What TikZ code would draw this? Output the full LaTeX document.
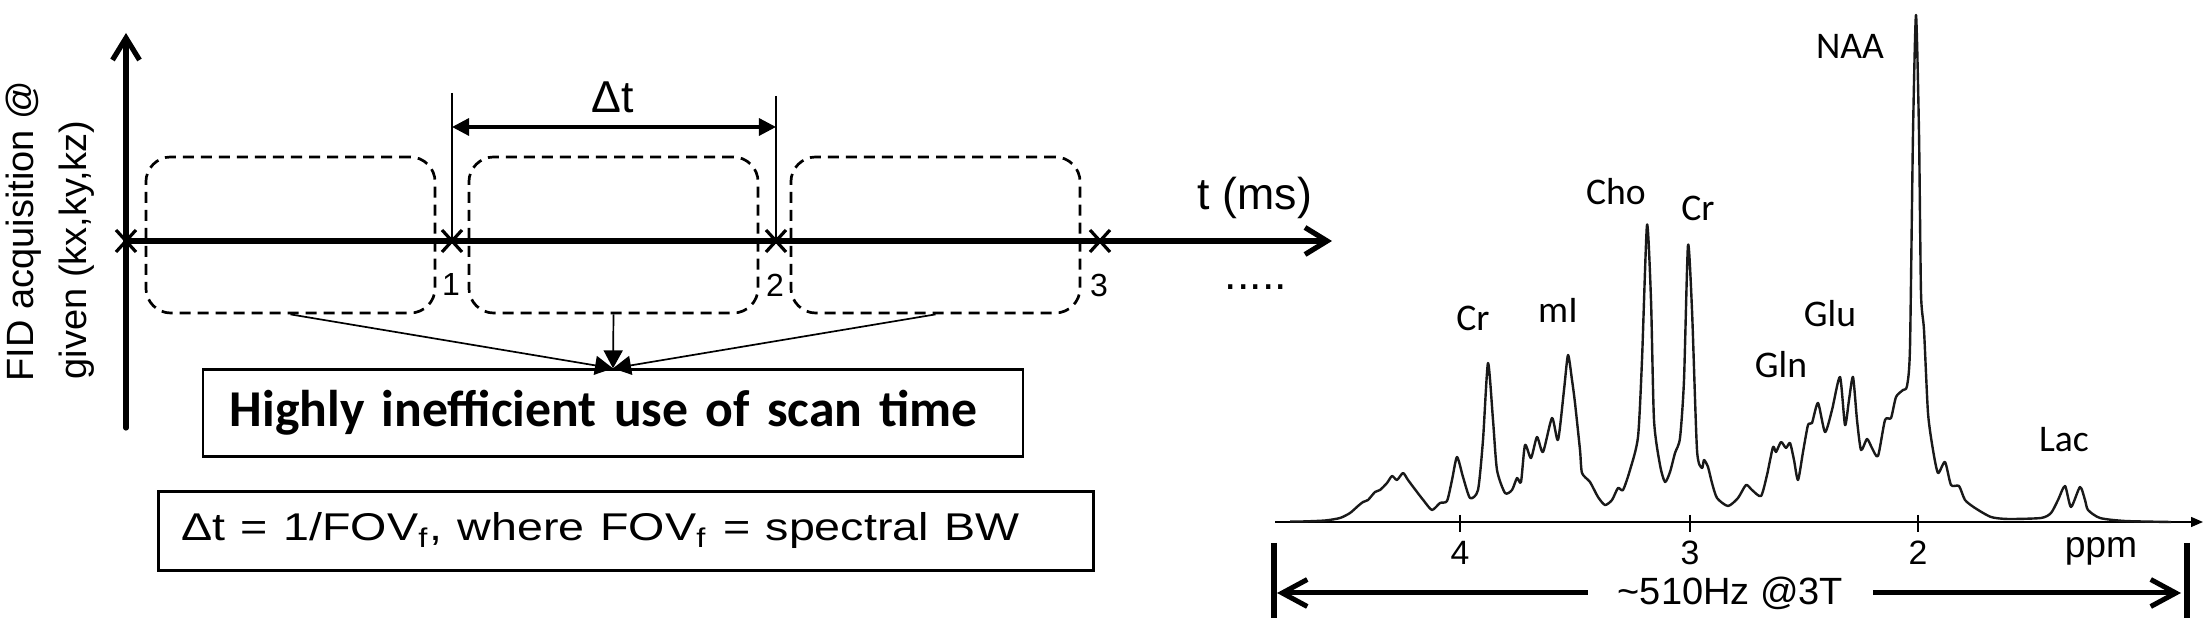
\documentclass[tikz,border=0pt]{standalone}
\usepackage{fontspec}
\usepackage{graphicx}
\setmainfont{Liberation Sans}
\newfontfamily\calibri{Carlito}
\usetikzlibrary{arrows.meta, positioning}

\tikzset{
    thickaxis/.style={line width=0.052cm, line cap=round, -{Straight Barb[length=0.22cm, width=0.27cm]}},
    acq/.style={draw, dash pattern=on 0.11cm off 0.07cm, line width=0.027cm, rounded corners=0.25cm, minimum width=2.89cm, minimum height=1.56cm},
    xmark/.style={line width=0.032cm},
    feed/.style={line width=0.017cm, -{Triangle[length=0.18cm, width=0.19cm]}},
    plainbox/.style={draw, line width=0.022cm, inner sep=0pt},
    peak/.style={font=\calibri\fontsize{10.7}{12}\selectfont, inner sep=0pt},
    ppmnum/.style={font=\fontsize{9.6}{11}\selectfont, inner sep=0pt},
    bigtxt/.style={font=\fontsize{12.7}{15}\selectfont, inner sep=0pt},
}

\begin{document}
\begin{tikzpicture}[x=0.01cm, y=-0.01cm]
\useasboundingbox (0,0) rectangle (2208,628);

% acquisition axes
\coordinate (o) at (126,241);
\coordinate (ytop) at (126,33);
\coordinate (ybot) at (126,428);
\coordinate (tend) at (1332,241);
\draw[thickaxis] (ybot) -- (ytop);
\draw[thickaxis] (o) -- (tend);
\node[rotate=90, anchor=base west, inner sep=0pt, font=\fontsize{10.8}{13}\selectfont] (ylab1) at (33,382) {FID acquisition @};
\node[rotate=90, anchor=base west, inner sep=0pt, font=\fontsize{10.8}{13}\selectfont] (ylab2) at (87,380) {given (kx,ky,kz)};
\node[bigtxt, anchor=base] (tlab) at (1255,210) {t (ms)};
\node[bigtxt, anchor=base] (more) at (1256,290) {.....};

% sampling points
\foreach \i/\xx in {0/126,1/452,2/776,3/1100} {
    \coordinate (m\i) at (\xx,241);
    \draw[xmark, shift={(m\i)}] (-10,-11) -- (10,11) (-10,11) -- (10,-11);
}
\foreach \i/\xx in {1/451,2/775,3/1099}
    \node[inner sep=0pt, font=\fontsize{9.1}{11}\selectfont] (n\i) at (\xx,285) {\i};

% dwell time
\coordinate (d1) at (452,93);
\coordinate (d2) at (776,96);
\draw[line width=0.022cm] (d1) -- (m1);
\draw[line width=0.022cm] (d2) -- (m2);
\coordinate (dl) at (452,127);
\coordinate (dr) at (776,127);
\draw[line width=0.032cm, {Triangle[length=0.17cm, width=0.17cm]}-{Triangle[length=0.17cm, width=0.17cm]}] (dl) -- (dr);
\node[bigtxt, anchor=base] (dt) at (613,113) {Δt};

% readout windows
\foreach \i/\xx in {1/290.5,2/613.5,3/935.5}
    \node[acq] (acq\i) at (\xx,235) {};

\node[plainbox, minimum height=0.87cm, text width=7.66cm, inner xsep=0.27cm, align=left, font=\calibri\bfseries\fontsize{14.7}{18}\selectfont] (waste) at (613,413) {\mbox{Highly inefficient use of scan time}};
\foreach \i in {1,2,3}
    \draw[feed] (acq\i.south) -- (waste.north);

\node[plainbox, minimum height=0.79cm, text width=8.89cm, inner xsep=0.227cm, align=left, font=\fontsize{11}{13}\selectfont] (bw) at (626,531)
    {\mbox{\scalebox{1.205}[1]{Δt = 1/FOV\textsubscript{f}, where FOV\textsubscript{f} = spectral BW}}};

% spectrum
\coordinate (pstart) at (1275,522);
\coordinate (pend) at (2203,522);
\draw[line width=0.014cm, -{Triangle[length=0.12cm, width=0.1cm]}] (pstart) -- (pend);
\foreach \p/\xx in {4/1460,3/1690,2/1918} {
    \draw[line width=0.014cm] (\xx,515) -- (\xx,532);
    \node[ppmnum] (tick\p) at (\xx,553) {\p};
}
\node[anchor=base, inner sep=0pt, font=\fontsize{10.6}{12}\selectfont] (ppm) at (2101,558) {ppm};

\draw[line width=0.024cm, gray!20!black, line join=round] plot[smooth, tension=0.4] coordinates {
    (1290,521.5) (1302,521.5) (1325,520.5) (1340,518) (1350,513) (1358,506) (1363,502) (1368,500)
    (1375,492) (1380,490) (1387,483) (1392,476) (1397,480) (1403,473) (1408,480) (1417,492)
    (1424,501) (1432,510) (1440,503) (1447,501) (1452,480) (1457,457) (1463,477) (1470,498)
    (1478,490) (1483,440) (1488,363) (1493,420) (1497,470) (1505,493) (1512,490) (1517,478)
    (1521,482) (1525,445) (1531,458) (1537,437) (1543,452) (1552,418) (1558,440) (1564,390)
    (1568,355) (1572,380) (1575,403) (1580,450) (1582,473) (1590,482) (1598,497) (1605,505)
    (1612,500) (1618,488) (1623,490) (1630,470) (1638,437) (1642,360) (1647,225) (1651,300)
    (1654,420) (1660,465) (1665,482) (1670,472) (1675,453) (1680,438) (1684,380) (1688,245)
    (1692,310) (1697,450) (1702,468) (1704,460) (1708,467) (1712,483) (1717,498) (1728,506)
    (1738,498) (1746,485) (1752,490) (1761,496) (1767,475) (1773,447) (1776,452) (1781,442)
    (1786,448) (1790,443) (1794,460) (1798,480) (1803,452) (1808,425) (1812,423) (1818,403)
    (1825,432) (1832,410) (1840,377) (1845,425) (1849,400) (1853,377) (1857,420) (1861,450)
    (1867,439) (1872,448) (1878,456) (1885,420) (1891,418) (1896,397) (1903,390) (1907,386)
    (1910,347) (1913,133) (1916,15) (1919,133) (1921,293) (1924,330) (1928,413) (1933,450)
    (1938,473) (1945,462) (1951,485) (1959,486) (1965,500) (1975,508) (1991,517) (2008,519)
    (2041,518) (2051,513) (2058,500) (2065,486) (2071,507) (2080,487) (2085,500) (2088,510)
    (2100,518) (2125,521) (2171,522)};

\node[peak] (cr1) at (1473,318) {Cr};
\node[peak] (mi) at (1558,310) {mI};
\node[peak] (cho) at (1616,192) {Cho};
\node[peak] (cr2) at (1698,208) {Cr};
\node[peak] (naa) at (1850,46) {NAA};
\node[peak] (glu) at (1830,314) {Glu};
\node[peak] (gln) at (1781,365) {Gln};
\node[peak] (lac) at (2064,440) {Lac};

% spectral bandwidth
\coordinate (bwl) at (1274,593);
\coordinate (bwr) at (2187,593);
\draw[line width=0.06cm] (bwl) ++(0,-50) -- ++(0,75);
\draw[line width=0.06cm] (bwr) ++(0,-50) -- ++(0,75);
\draw[line width=0.05cm, line cap=round, {Straight Barb[length=0.25cm, width=0.27cm]}-{Straight Barb[length=0.25cm, width=0.27cm]}, shorten <=0.03cm, shorten >=0.06cm] (bwl) -- node[fill=white, inner xsep=0.3cm, inner ysep=0pt, font=\fontsize{10.8}{13}\selectfont] (bwtext) {\textasciitilde510Hz @3T} (bwr);
\end{tikzpicture}
\end{document}
